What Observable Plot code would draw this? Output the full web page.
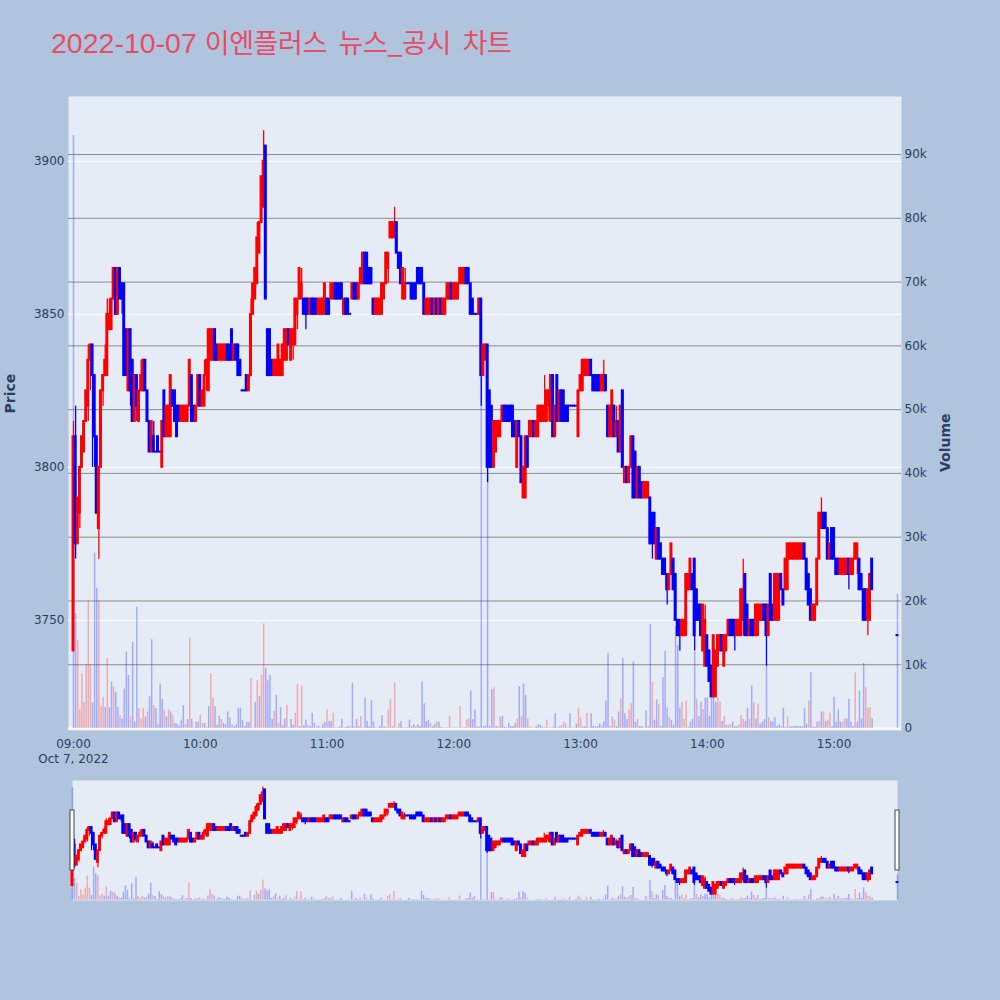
<!DOCTYPE html>
<html><head><meta charset="utf-8">
<script src="https://cdn.jsdelivr.net/npm/d3@7"></script>
<script src="https://cdn.jsdelivr.net/npm/@observablehq/plot@0.6"></script>
<style>
html,body{margin:0;padding:0;background:#b0c4de;}
#wrap{position:relative;width:1000px;height:1000px;background:#b0c4de;overflow:hidden;}
#wrap svg{position:absolute;left:0;top:0;}
</style></head>
<body><div id="wrap"></div>
<script>
// ---------------- DATA ----------------
const titleText = "2022-10-07 이엔플러스 뉴스_공시 차트";
const sessionDay = [2022, 9, 7];          // 7 Oct 2022 (month index 9)
const sessionStart = "09:00";             // one candle per minute from here
const xTickLabels = ["09:00","10:00","11:00","12:00","13:00","14:00","15:00"];
const xDateLabel = "Oct 7, 2022";
const priceTicks = [3750, 3800, 3850, 3900];
const volumeTicks = [0,10000,20000,30000,40000,50000,60000,70000,80000,90000];

const open = [
3740,3810,3775,3785,3800,3805,3815,3820,3835,3840,
3830,3810,3780,3800,3825,3830,3830,3845,3845,3855,
3865,3850,3865,3860,3860,3845,3825,3845,3835,3815,
3830,3815,3825,3825,3835,3825,3815,3805,3810,3805,
3810,3805,3800,3825,3810,3810,3810,3825,3825,3820,
3820,3815,3815,3815,3815,3820,3830,3820,3815,3820,
3830,3820,3820,3830,3825,3835,3835,3845,3840,3835,
3835,3835,3835,3840,3840,3845,3835,3840,3840,3835,
3825,3825,3830,3825,3830,3850,3855,3860,3870,3880,
3885,3905,3845,3845,3835,3830,3830,3830,3830,3830,
3835,3835,3845,3835,3840,3840,3850,3855,3855,3855,
3855,3855,3850,3855,3855,3855,3850,3850,3850,3850,
3855,3855,3855,3855,3860,3860,3860,3860,3850,3855,
3855,3850,3855,3860,3860,3855,3860,3860,3870,3870,
3865,3865,3855,3850,3850,3850,3850,3855,3860,3865,
3875,3875,3875,3880,3870,3870,3855,3855,3860,3860,
3860,3860,3860,3865,3865,3865,3860,3850,3850,3850,
3855,3850,3855,3850,3855,3850,3850,3855,3855,3860,
3855,3855,3855,3860,3860,3860,3865,3865,3860,3855,
3850,3850,3850,3855,3830,3835,3840,3825,3820,3800,
3805,3810,3810,3815,3820,3820,3820,3820,3820,3815,
3800,3815,3810,3790,3790,3810,3810,3810,3815,3810,
3810,3815,3815,3815,3815,3820,3815,3830,3810,3830,
3815,3825,3825,3820,3820,3820,3820,3820,3820,3810,
3825,3825,3830,3830,3830,3835,3830,3830,3830,3830,
3825,3825,3830,3820,3810,3810,3820,3810,3815,3805,
3825,3795,3800,3795,3800,3810,3805,3790,3800,3795,
3790,3790,3790,3790,3785,3785,3770,3780,3775,3770,
3770,3765,3760,3765,3770,3765,3750,3750,3745,3745,
3745,3760,3760,3765,3770,3760,3755,3755,3740,3735,
3745,3740,3735,3725,3725,3735,3740,3745,3735,3740,
3745,3750,3750,3750,3745,3745,3745,3750,3765,3755,
3745,3750,3750,3745,3745,3750,3750,3755,3755,3745,
3765,3755,3750,3750,3750,3765,3760,3760,3760,3770,
3770,3770,3770,3770,3770,3770,3775,3770,3765,3760,
3750,3750,3755,3770,3780,3785,3785,3780,3770,3780,
3780,3770,3770,3765,3765,3765,3765,3770,3765,3765,
3770,3770,3770,3765,3760,3760,3750,3750,3770];

const high = [
3815,3820,3790,3800,3810,3815,3825,3840,3840,3840,
3830,3810,3800,3825,3830,3840,3855,3855,3855,3865,
3865,3865,3865,3860,3860,3845,3845,3845,3835,3830,
3830,3825,3835,3835,3835,3825,3815,3815,3815,3805,
3810,3805,3815,3825,3820,3820,3830,3825,3825,3820,
3820,3820,3820,3820,3820,3835,3830,3820,3820,3830,
3830,3825,3835,3835,3845,3845,3845,3845,3840,3840,
3840,3840,3840,3840,3840,3845,3840,3840,3840,3835,
3825,3825,3830,3830,3855,3860,3865,3880,3880,3895,
3910,3905,3845,3845,3835,3835,3835,3840,3835,3840,
3845,3845,3845,3845,3845,3855,3855,3865,3865,3855,
3855,3855,3855,3855,3855,3855,3855,3855,3855,3860,
3855,3855,3860,3860,3860,3860,3860,3860,3855,3855,
3855,3850,3860,3860,3860,3860,3865,3870,3870,3870,
3865,3865,3855,3855,3855,3855,3860,3860,3870,3870,
3880,3880,3885,3880,3870,3870,3865,3865,3860,3860,
3860,3860,3860,3865,3865,3865,3860,3855,3855,3855,
3855,3855,3855,3855,3855,3855,3855,3860,3860,3860,
3860,3860,3860,3865,3865,3865,3865,3865,3860,3855,
3850,3850,3855,3855,3840,3840,3840,3825,3820,3815,
3815,3815,3815,3820,3820,3820,3820,3820,3820,3815,
3815,3815,3810,3800,3810,3810,3815,3815,3815,3815,
3820,3820,3820,3830,3825,3825,3830,3830,3820,3830,
3825,3825,3825,3820,3820,3820,3820,3820,3820,3825,
3830,3835,3835,3835,3835,3835,3830,3830,3830,3830,
3830,3835,3830,3820,3820,3825,3820,3820,3815,3820,
3825,3800,3800,3800,3810,3810,3805,3800,3800,3795,
3795,3795,3795,3790,3785,3785,3780,3780,3775,3770,
3770,3765,3765,3775,3770,3765,3750,3750,3750,3750,
3765,3765,3770,3765,3770,3760,3755,3755,3755,3755,
3745,3740,3735,3745,3740,3745,3745,3745,3745,3745,
3750,3750,3750,3750,3750,3750,3760,3770,3765,3755,
3750,3750,3750,3755,3755,3755,3755,3755,3755,3755,
3765,3755,3765,3765,3765,3765,3760,3770,3775,3775,
3775,3775,3775,3775,3775,3775,3775,3770,3765,3760,
3755,3755,3770,3785,3790,3785,3785,3780,3775,3780,
3780,3770,3770,3770,3770,3770,3770,3770,3770,3770,
3775,3775,3770,3765,3760,3760,3760,3765,3770];

const low = [
3740,3770,3775,3780,3800,3805,3815,3815,3825,3800,
3800,3785,3770,3800,3820,3830,3830,3845,3845,3855,
3850,3850,3855,3850,3830,3830,3825,3820,3815,3815,
3815,3815,3825,3825,3825,3815,3805,3805,3805,3805,
3805,3805,3800,3810,3810,3810,3810,3820,3815,3810,
3815,3815,3815,3815,3815,3820,3815,3815,3815,3820,
3820,3820,3820,3825,3825,3835,3835,3835,3835,3835,
3835,3835,3835,3835,3835,3835,3835,3835,3830,3830,
3825,3825,3825,3825,3830,3850,3855,3860,3870,3880,
3885,3855,3830,3830,3830,3830,3830,3830,3830,3830,
3835,3835,3840,3835,3835,3840,3845,3855,3855,3850,
3845,3850,3850,3850,3850,3850,3850,3850,3850,3850,
3850,3850,3855,3855,3855,3855,3855,3855,3850,3850,
3850,3850,3855,3855,3855,3855,3860,3860,3860,3860,
3860,3860,3850,3850,3850,3850,3850,3855,3860,3860,
3875,3875,3875,3870,3865,3860,3855,3855,3860,3860,
3855,3855,3855,3860,3860,3860,3850,3850,3850,3850,
3850,3850,3850,3850,3850,3850,3850,3855,3855,3855,
3855,3855,3855,3860,3860,3860,3860,3860,3850,3850,
3850,3850,3850,3820,3830,3835,3795,3800,3800,3800,
3805,3810,3810,3815,3815,3815,3815,3815,3810,3810,
3800,3810,3795,3790,3790,3800,3810,3810,3810,3810,
3810,3815,3815,3815,3815,3815,3815,3810,3810,3815,
3815,3815,3815,3815,3815,3820,3820,3820,3820,3810,
3825,3825,3830,3830,3830,3830,3825,3825,3825,3825,
3825,3825,3825,3810,3810,3810,3810,3810,3805,3805,
3800,3795,3795,3795,3800,3790,3790,3790,3790,3790,
3790,3790,3790,3775,3770,3775,3770,3770,3770,3765,
3765,3755,3760,3765,3760,3750,3745,3740,3745,3745,
3745,3760,3760,3760,3740,3750,3750,3745,3740,3735,
3735,3730,3725,3725,3725,3735,3740,3740,3735,3740,
3745,3745,3745,3740,3745,3745,3745,3745,3745,3745,
3745,3745,3745,3745,3745,3750,3750,3750,3735,3745,
3750,3750,3750,3750,3750,3760,3755,3760,3760,3770,
3770,3770,3770,3770,3770,3770,3770,3760,3755,3750,
3750,3750,3755,3770,3780,3780,3780,3770,3770,3770,
3770,3765,3765,3765,3765,3765,3765,3760,3765,3765,
3770,3765,3760,3760,3750,3750,3745,3750,3760];

const close = [
3810,3775,3790,3800,3810,3815,3825,3835,3840,3830,
3810,3785,3800,3825,3830,3835,3850,3850,3855,3865,
3850,3865,3855,3855,3830,3830,3845,3825,3815,3830,
3820,3825,3830,3835,3825,3815,3805,3815,3805,3805,
3805,3805,3815,3810,3820,3820,3830,3820,3815,3810,
3815,3820,3820,3820,3820,3835,3815,3815,3820,3830,
3820,3825,3830,3835,3845,3845,3845,3835,3835,3840,
3840,3840,3840,3835,3835,3835,3840,3835,3830,3830,
3825,3825,3825,3830,3850,3860,3865,3875,3880,3895,
3900,3855,3830,3830,3830,3835,3835,3840,3835,3840,
3845,3845,3840,3845,3845,3855,3855,3865,3860,3850,
3850,3850,3855,3850,3850,3850,3855,3855,3855,3860,
3850,3850,3860,3860,3855,3855,3855,3855,3855,3850,
3850,3850,3860,3855,3855,3860,3865,3870,3860,3860,
3860,3860,3850,3855,3855,3855,3860,3860,3870,3870,
3880,3880,3880,3870,3865,3860,3865,3860,3860,3860,
3855,3855,3855,3860,3860,3860,3850,3855,3855,3855,
3850,3855,3850,3855,3850,3855,3855,3860,3860,3855,
3860,3860,3860,3865,3865,3865,3860,3860,3850,3850,
3850,3850,3855,3830,3840,3840,3800,3800,3800,3815,
3815,3815,3815,3820,3815,3815,3815,3815,3810,3810,
3815,3810,3795,3800,3810,3800,3815,3815,3810,3815,
3820,3820,3820,3820,3825,3825,3830,3810,3820,3815,
3825,3815,3815,3815,3815,3820,3820,3820,3820,3825,
3830,3835,3835,3835,3835,3830,3825,3825,3825,3825,
3830,3830,3825,3810,3820,3825,3810,3815,3805,3820,
3800,3800,3795,3800,3810,3790,3790,3800,3790,3790,
3795,3795,3795,3775,3775,3775,3780,3770,3770,3765,
3765,3760,3765,3775,3760,3750,3745,3745,3750,3750,
3765,3765,3770,3760,3745,3750,3750,3745,3755,3750,
3735,3730,3725,3745,3740,3745,3745,3740,3745,3745,
3750,3745,3745,3745,3750,3750,3760,3760,3745,3745,
3750,3745,3745,3755,3755,3755,3755,3750,3745,3755,
3750,3750,3765,3765,3765,3760,3755,3770,3775,3775,
3775,3775,3775,3775,3775,3775,3770,3760,3755,3750,
3755,3755,3770,3785,3785,3780,3780,3770,3775,3770,
3770,3765,3765,3770,3770,3770,3770,3765,3770,3770,
3775,3775,3760,3760,3750,3750,3760,3765,3760];

const volume = [
93000,18000,13800,3000,8600,4100,10000,20000,10000,4000,
27500,22000,20000,3400,4900,3300,11000,3300,7300,6500,
5700,3300,2000,1500,6200,12000,8300,1800,13500,1000,
19000,3100,1500,3100,1800,2600,5000,13900,3600,3100,
600,7000,4600,2900,1800,2900,2600,2000,800,700,
400,1300,3600,600,1400,14200,1400,100,1000,1000,
2100,800,800,200,3400,8600,4800,3400,500,1900,
1400,800,600,2600,1700,600,300,600,3100,3200,
1300,300,1000,1000,7800,100,4100,7500,5000,8300,
16400,9400,7500,8300,1400,2700,5200,800,3300,500,
1500,3600,100,1400,500,2400,6900,300,6700,400,
1300,500,300,2400,800,200,400,100,600,1000,
2900,1100,1100,2400,100,100,300,1400,100,200,
400,300,7100,300,1400,300,1900,100,4800,1100,
300,4400,1000,100,100,300,2000,300,200,2900,
4600,300,7100,100,800,1100,100,100,100,1300,
300,600,300,600,300,7300,3900,1100,1300,800,
300,600,1100,1000,200,100,100,100,1900,100,
100,100,100,3400,100,100,1300,1500,5900,1400,
2900,300,200,55000,300,400,40000,300,6100,6400,
300,300,1800,1900,200,100,800,300,300,800,
1500,6600,1900,7000,5200,1500,300,100,100,300,
600,500,200,100,1300,100,100,300,2300,100,
300,400,1000,700,100,2300,100,100,700,3200,
1700,300,300,2400,100,2300,300,300,300,700,
500,1100,4300,11800,300,1800,1300,300,2600,4600,
11000,2300,1400,2900,3900,10400,1000,1400,300,300,
100,2800,300,16300,7200,1300,4500,3800,300,8000,
12100,3200,1700,1300,500,16000,13000,3200,4100,1400,
4300,200,1000,1400,12000,4600,1900,4100,3000,4800,
4800,1900,7100,4900,4100,4900,4100,1100,1900,500,
500,600,1000,300,300,600,2000,1400,1100,3200,
1400,6700,4000,1500,3800,700,1000,1400,10000,1700,
1100,1000,1700,300,600,300,3200,200,1800,300,
300,300,300,300,300,300,3100,700,4300,8800,
300,200,1000,1100,2600,2600,1100,1300,2400,300,
4900,1000,2900,1000,1000,1500,1500,4600,1000,300,
8700,1000,5900,1500,10200,6400,3200,3200,1500];

// r = red (up) volume bar, b = blue (down) volume bar
const volumeSide = (
"bbrrrrrrrb"+"bbrrrbrbbr"+"bbrbbbbrbb"+"brrrbrbbrb"+"bbbrbrbrbb"+
"bbbrbrbbbb"+"rrbbbrrbbb"+"rbbbbrbbbb"+"bbbbrrbrbr"+"rbbbbrbrbb"+
"brbbbrrbrb"+"brbbbrbbbb"+"rbbrrbrbbb"+"brbrbbrbbb"+"bbbbbbbrbr"+
"rrrbrbbbbb"+"bbrbbbbbbr"+"bbrbbbbbrr"+"bbbrbbrrbb"+"brbbbbbbbr"+
"brrbbbbbbb"+"rbrbbrrbbb"+"bbbbrbbrbb"+"rbrrbbbbbr"+"rbbrbbbrbb"+
"rbbbrrrbbr"+"bbbrrbbrbb"+"bbrbrbbrbb"+"bbrbbbbbrr"+"rbbbbrbbrb"+
"bbbbbrrbrb"+"rrbbbrrrbb"+"rbrbrbbbbr"+"bbbbbrbbrb"+"bbbbbbbbrb"+
"rbbrbrbrrb"+"bbbbrrbbbb"+"rbbbbrrrb").split("");

// closing auction print
const auctionTime = "15:30";
const auctionPrice = 3745;
const auctionVolume = 21000;
const auctionSide = "b";

// ---------------- BUILD ----------------
const at = hm => { const [h, m] = hm.split(":").map(Number); return new Date(sessionDay[0], sessionDay[1], sessionDay[2], h, m); };
const MIN = 60000;
const t0 = at(sessionStart);
const rows = open.map((o, i) => ({time: new Date(+t0 + i * MIN), open: o, high: high[i], low: low[i], close: close[i], volume: volume[i], side: volumeSide[i]}));
rows.push({time: at(auctionTime), open: auctionPrice, high: auctionPrice, low: auctionPrice, close: auctionPrice, volume: auctionVolume, side: auctionSide});

const UP = "#ff0000", DOWN = "#0000ff";
const candleColor = d => d.close > d.open ? UP : DOWN;
const volColor = d => d.side === "r" ? UP : DOWN;
const ink = "#2a3f5f";
const plotBg = "#e5ecf6";

const mainX = [new Date(+t0 - 2.37 * MIN), new Date(+t0 + 391.9 * MIN)];
const sliderX = [t0, at(auctionTime)];
const priceDomain = [3714, 3921.2];
const volDomain = [-310, 99100];
const mainM = {marginTop: 96, marginBottom: 270, marginLeft: 68, marginRight: 99};
const sliderM = {marginTop: 780, marginBottom: 100, marginLeft: 72, marginRight: 103};

const wrap = document.getElementById("wrap");
function layer(m, xd, yd, marks) {
  const svg = Plot.plot({
    width: 1000, height: 1000, ...m,
    x: {type: "time", domain: xd, axis: null},
    y: {type: "linear", domain: yd, axis: null},
    style: "position:absolute;left:0;top:0;background:transparent;overflow:visible;font-family:'DejaVu Sans',Verdana,sans-serif;font-size:12px;color:#2a3f5f;",
    marks
  });
  wrap.appendChild(svg);
}

const candleMarks = (wick) => [
  Plot.ruleX(rows, {x: "time", y1: "low", y2: "high", stroke: candleColor, strokeWidth: wick}),
  Plot.rect(rows, {
    x1: d => new Date(+d.time - 0.7 * MIN), x2: d => new Date(+d.time + 0.7 * MIN),
    y1: "open", y2: "close", fill: candleColor, insetTop: -1, insetBottom: -1
  })
];
const volumeMarks = (w) => [
  Plot.ruleX(rows, {x: "time", y1: 0, y2: "volume", stroke: volColor, strokeOpacity: 0.28, strokeWidth: w})
];

// main: background + price grid
layer(mainM, mainX, priceDomain, [
  Plot.frame({fill: plotBg, stroke: "none"}),
  Plot.ruleY(priceTicks, {stroke: "#ffffff", strokeWidth: 1})
]);

// main: volume axis, grid and bars
layer(mainM, mainX, volDomain, [
  Plot.ruleY(volumeTicks.filter(v => v > 0), {stroke: "#8c8c8c", strokeWidth: 1}),
  Plot.ruleY([0], {stroke: "#ffffff", strokeWidth: 2}),
  ...volumeMarks(1.5),
  Plot.text(volumeTicks, {y: d => d, text: d => d === 0 ? "0" : (d / 1000) + "k", frameAnchor: "right", textAnchor: "start", dx: 3, fill: ink, fontSize: 12}),
  Plot.text(["Volume"], {text: d => d, frameAnchor: "right", dx: 44, rotate: -90, fill: ink, fontSize: 14, fontWeight: "bold"})
]);

// main: candles, price axis, time axis
layer(mainM, mainX, priceDomain, [
  ...candleMarks(1.3),
  Plot.text(priceTicks, {y: d => d, text: d => String(d), frameAnchor: "left", textAnchor: "end", dx: -4, fill: ink, fontSize: 12}),
  Plot.text(xTickLabels, {x: d => at(d), text: d => d, frameAnchor: "bottom", lineAnchor: "bottom", dy: 17, fill: ink, fontSize: 12}),
  Plot.text([xDateLabel], {x: () => at(xTickLabels[0]), text: d => d, frameAnchor: "bottom", lineAnchor: "bottom", dy: 32, fill: ink, fontSize: 12}),
  Plot.text(["Price"], {text: d => d, frameAnchor: "left", dx: -58, rotate: -90, fill: ink, fontSize: 14, fontWeight: "bold"})
]);

// range slider: background + volume
layer(sliderM, sliderX, volDomain, [
  Plot.frame({fill: plotBg, stroke: "none"}),
  ...volumeMarks(1.5)
]);

// range slider: candles + grabbers
const pMid = (priceDomain[0] + priceDomain[1]) / 2, pHalf = (priceDomain[1] - priceDomain[0]) / 4;
layer(sliderM, sliderX, priceDomain, [
  ...candleMarks(1.2),
  Plot.rect(sliderX, {x1: d => d, x2: d => d, y1: pMid - pHalf, y2: pMid + pHalf, insetLeft: -2, insetRight: -2, fill: "#ffffff", stroke: "#444444", strokeWidth: 1})
]);

// title
const tsvg = d3.select(wrap).append("svg").attr("width", 1000).attr("height", 90)
  .style("position", "absolute").style("left", "0px").style("top", "0px").style("overflow", "visible");
const sp = titleText.indexOf(" ");
const tt = tsvg.append("text").attr("x", 51).attr("y", 53).attr("fill", "#e84c64").attr("xml:space", "preserve").style("white-space", "pre");
tt.append("tspan").attr("font-family", "'Liberation Sans', Arial, sans-serif").attr("font-size", 28.5).text(titleText.slice(0, sp + 1));
tt.append("tspan").attr("font-family", "'Noto Sans CJK KR', sans-serif").attr("font-size", 27)
  .attr("letter-spacing", -0.4).attr("word-spacing", 6).text(titleText.slice(sp + 1));
</script></body></html>
